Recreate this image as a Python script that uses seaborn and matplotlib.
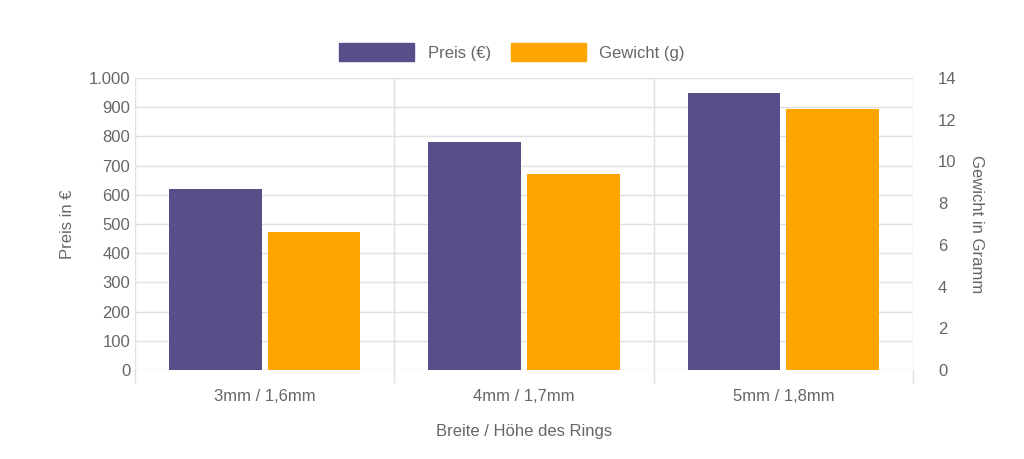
import numpy as np
import pandas as pd
import seaborn as sns
import matplotlib.pyplot as plt
from matplotlib.patches import Patch

categories = ["3mm / 1,6mm", "4mm / 1,7mm", "5mm / 1,8mm"]
preis = [620, 780, 950]
gewicht = [6.6, 9.4, 12.5]

PURPLE = "#584f8a"
ORANGE = "#ffa500"
TXT = "#666666"
GRID = "#e0e0e0"

# Gewicht drawn in Preis units on the left axis, right axis spans 0..14
scale = 1000 / 14
df = pd.DataFrame({
    "cat": categories * 2,
    "val": preis + [g * scale for g in gewicht],
    "series": ["Preis (€)"] * 3 + ["Gewicht (g)"] * 3,
})

plt.rcParams["font.family"] = "Liberation Sans"
fig = plt.figure(figsize=(10.24, 4.59), dpi=100)
ax = fig.add_axes([135 / 1024, 1 - 370 / 459, (913 - 135) / 1024, (370 - 78) / 459])

sns.barplot(data=df, x="cat", y="val", hue="series", palette=[PURPLE, ORANGE],
            width=0.76, gap=0.06, ax=ax, legend=False, saturation=1)

ax.set_ylim(0, 1000)
ax.set_xlim(-0.5, 2.5)
ax.set_yticks(range(0, 1001, 100))
ax.set_yticklabels(["0", "100", "200", "300", "400", "500", "600", "700", "800", "900", "1.000"])
ax.set_axisbelow(True)
ax.grid(axis="y", color=GRID, lw=1)
for x in [-0.5, 0.5, 1.5, 2.5]:
    ax.axvline(x, color=GRID, lw=1, zorder=0)
    ax.plot([x, x], [0, -40], color=GRID, lw=1, clip_on=False)
for s in ax.spines.values():
    s.set_visible(False)
ax.tick_params(axis="both", length=0, colors=TXT, labelsize=12)
ax.tick_params(axis="x", pad=14)
ax.set_xlabel("Breite / Höhe des Rings", color=TXT, fontsize=12, labelpad=14)
ax.set_ylabel("Preis in €", color=TXT, fontsize=12, labelpad=10)

ax2 = ax.twinx()
ax2.set_ylim(0, 14)
ax2.set_yticks(range(0, 15, 2))
for s in ax2.spines.values():
    s.set_visible(False)
ax2.tick_params(axis="y", length=0, colors=TXT, labelsize=12, pad=18)
ax2.set_ylabel("Gewicht in Gramm", color=TXT, fontsize=12, rotation=270, labelpad=20)

handles = [Patch(color=PURPLE, label="Preis (€)"), Patch(color=ORANGE, label="Gewicht (g)")]
leg = fig.legend(handles=handles, loc="center", bbox_to_anchor=(0.5, 1 - 52 / 459), ncol=2,
                 frameon=False, handlelength=4.5, handleheight=1.3, fontsize=12, columnspacing=1.2)
for t in leg.get_texts():
    t.set_color(TXT)

fig.savefig("out.png", dpi=100)
